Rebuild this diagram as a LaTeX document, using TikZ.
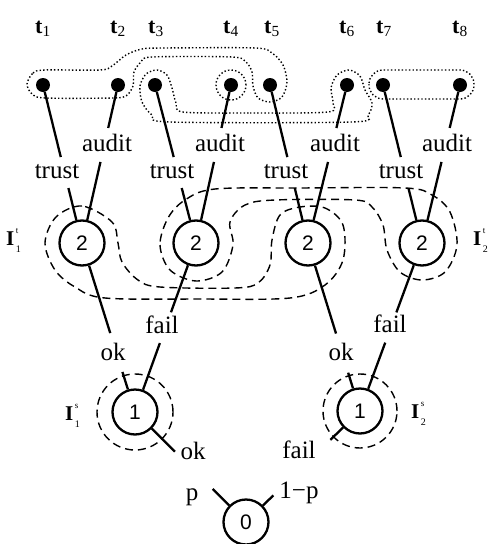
\documentclass[tikz,border=0pt]{standalone}
\usepackage{fontspec}
\setmainfont{Liberation Serif}
\newfontfamily\numfont{Liberation Sans}
\usetikzlibrary{calc}
\begin{document}
\begin{tikzpicture}[x=1pt,y=-1pt,
  dec/.style={circle,draw,line width=2.3pt,minimum size=45pt,inner sep=0pt,font=\numfont\fontsize{21}{21}\selectfont},
  leaf/.style={circle,fill,minimum size=14pt,inner sep=0pt},
  edge/.style={line width=2.3pt},
  lbl/.style={font=\fontsize{25}{25}\selectfont,inner sep=0pt,anchor=base},
  tlbl/.style={font=\fontsize{22}{22}\selectfont,inner sep=0pt,anchor=base},
  ilbl/.style={font=\fontsize{21}{21}\selectfont\bfseries,inner sep=0pt,anchor=base west},
  suplbl/.style={font=\fontsize{9}{9}\selectfont,inner sep=0pt,anchor=base west},
  sublbl/.style={font=\fontsize{10}{10}\selectfont,inner sep=0pt,anchor=base west},
  infoset/.style={line width=1.4pt,dash pattern=on 8pt off 5pt},
  obsset/.style={line width=1.4pt,dash pattern=on 1.4pt off 2.2pt}]
\useasboundingbox (0,0) rectangle (491,544);

% decision nodes
\node[dec] (O) at (246,522) {0};
\node[dec] (L) at (135,412) {1};
\node[dec] (R) at (360,411) {1};
\node[dec] (A) at (82,243) {2};
\node[dec] (B) at (196,243) {2};
\node[dec] (C) at (308,243) {2};
\node[dec] (D) at (422,243) {2};

% terminal nodes
\node[leaf] (t1) at (43,85) {};
\node[leaf] (t2) at (118,85) {};
\node[leaf] (t3) at (155,85) {};
\node[leaf] (t4) at (231,85) {};
\node[leaf] (t5) at (270,85) {};
\node[leaf] (t6) at (347,85) {};
\node[leaf] (t7) at (383,85) {};
\node[leaf] (t8) at (460,85) {};

\foreach \n/\x in {1/43,2/118,3/156,4/231,5/272,6/347,7/384,8/460}
  \node[tlbl] (tl\n) at (\x,33) {\textbf{t}\textsubscript{\n}};

% observation sets (dotted)
\draw[obsset] plot[smooth cycle, tension=0.5] coordinates {
 (27,84) (33,73) (45,70) (100,70) (112,66) (126,55) (142,49) (165,48) (255,48)
 (272,53) (283,65) (287,82) (282,97) (270,102) (258,98) (253,86) (252,72) (246,62)
 (232,57) (152,57) (141,62) (134,72) (133,86) (126,96) (112,98) (45,98) (32,94)};
\draw[obsset] plot[smooth cycle, tension=0.5] coordinates {
 (183,112) (250,113) (328,112) (333,103) (331,88) (337,75) (349,70) (360,76)
 (365,90) (372,103) (368,115) (352,122) (170,122) (152,115) (142,102) (140,86)
 (146,74) (157,70) (167,75) (172,88) (176,103)};
\draw[obsset] (t4) circle[radius=15pt];
\draw[obsset, rounded corners=14pt] (369,70) rectangle (474,99);

% information sets (dashed)
\draw[infoset] (L) circle[radius=38pt];
\draw[infoset] (R) circle[radius=37pt];
\draw[infoset] plot[smooth cycle, tension=0.55] coordinates {
 (112,222) (82,206) (56,217) (45,243) (55,270) (75,287) (105,298) (200,299)
 (290,298) (325,285) (343,260) (343,225) (325,208) (300,207) (280,215) (272,240)
 (270,265) (258,283) (235,288) (160,287) (138,280) (122,262) (118,243)};
\draw[infoset] plot[smooth cycle, tension=0.55] coordinates {
 (168,218) (160,245) (170,270) (196,281) (222,272) (233,245) (230,222) (245,205)
 (275,200) (355,200) (372,207) (383,225) (387,250) (400,272) (422,280) (445,272)
 (457,245) (450,212) (432,195) (405,188) (300,188) (215,189) (185,200)};

% chance edges (broken)
\draw[edge] (O) -- ($(O)!0.3!(L)$);
\draw[edge] (O) -- ($(O)!0.24!(R)$);
\draw[edge] (L) -- ($(L)!0.36!(O)$);
\draw[edge] (R) -- ($(R)!0.26!(O)$);

% player 1 edges
\draw[edge] (L) -- ($(L)!0.237!(A)$);
\draw[edge] ($(L)!0.467!(A)$) -- (A);
\draw[edge] (L) -- ($(L)!0.408!(B)$);
\draw[edge] ($(L)!0.59!(B)$) -- (B);
\draw[edge] (R) -- ($(R)!0.228!(C)$);
\draw[edge] ($(R)!0.461!(C)$) -- (C);
\draw[edge] (R) -- ($(R)!0.407!(D)$);
\draw[edge] ($(R)!0.587!(D)$) -- (D);

% player 2 edges
\foreach \p/\tl/\ta in {A/t1/t2,B/t3/t4,C/t5/t6,D/t7/t8}{
  \draw[edge] (\p) -- ($(\p)!0.348!(\tl)$);
  \draw[edge] ($(\p)!0.544!(\tl)$) -- (\tl);
  \draw[edge] (\p) -- ($(\p)!0.513!(\ta)$);
  \draw[edge] ($(\p)!0.728!(\ta)$) -- (\ta);
}

% edge labels
\node[lbl] (lp) at (192,500) {p};
\node[lbl] (lq) at (299,498) {1−p};
\node[lbl] (lok0) at (193,459) {ok};
\node[lbl] (lfail0) at (299,458) {fail};
\node[lbl] (lokL) at (113,360) {ok};
\node[lbl] (lfailL) at (162,333) {fail};
\node[lbl] (lokR) at (341,360) {ok};
\node[lbl] (lfailR) at (390,332) {fail};
\foreach \n/\xt/\xa in {A/57/107,B/172/220,C/286/335,D/401/447}{
  \node[lbl] (tr\n) at (\xt,178) {trust};
  \node[lbl] (au\n) at (\xa,151) {audit};
}

% information set labels
\foreach \nm/\x/\y/\sup/\sub in {I1t/6/245/t/1,I2t/473/245/t/2,I1s/65/420/s/1,I2s/411/418/s/2}{
  \node[ilbl] (\nm) at (\x,\y) {I};
  \node[suplbl] (\nm sup) at ($(\nm.base east)+(1,-12)$) {\sup};
  \node[sublbl] (\nm sub) at ($(\nm.base east)+(1,7)$) {\sub};
}
\end{tikzpicture}
\end{document}
